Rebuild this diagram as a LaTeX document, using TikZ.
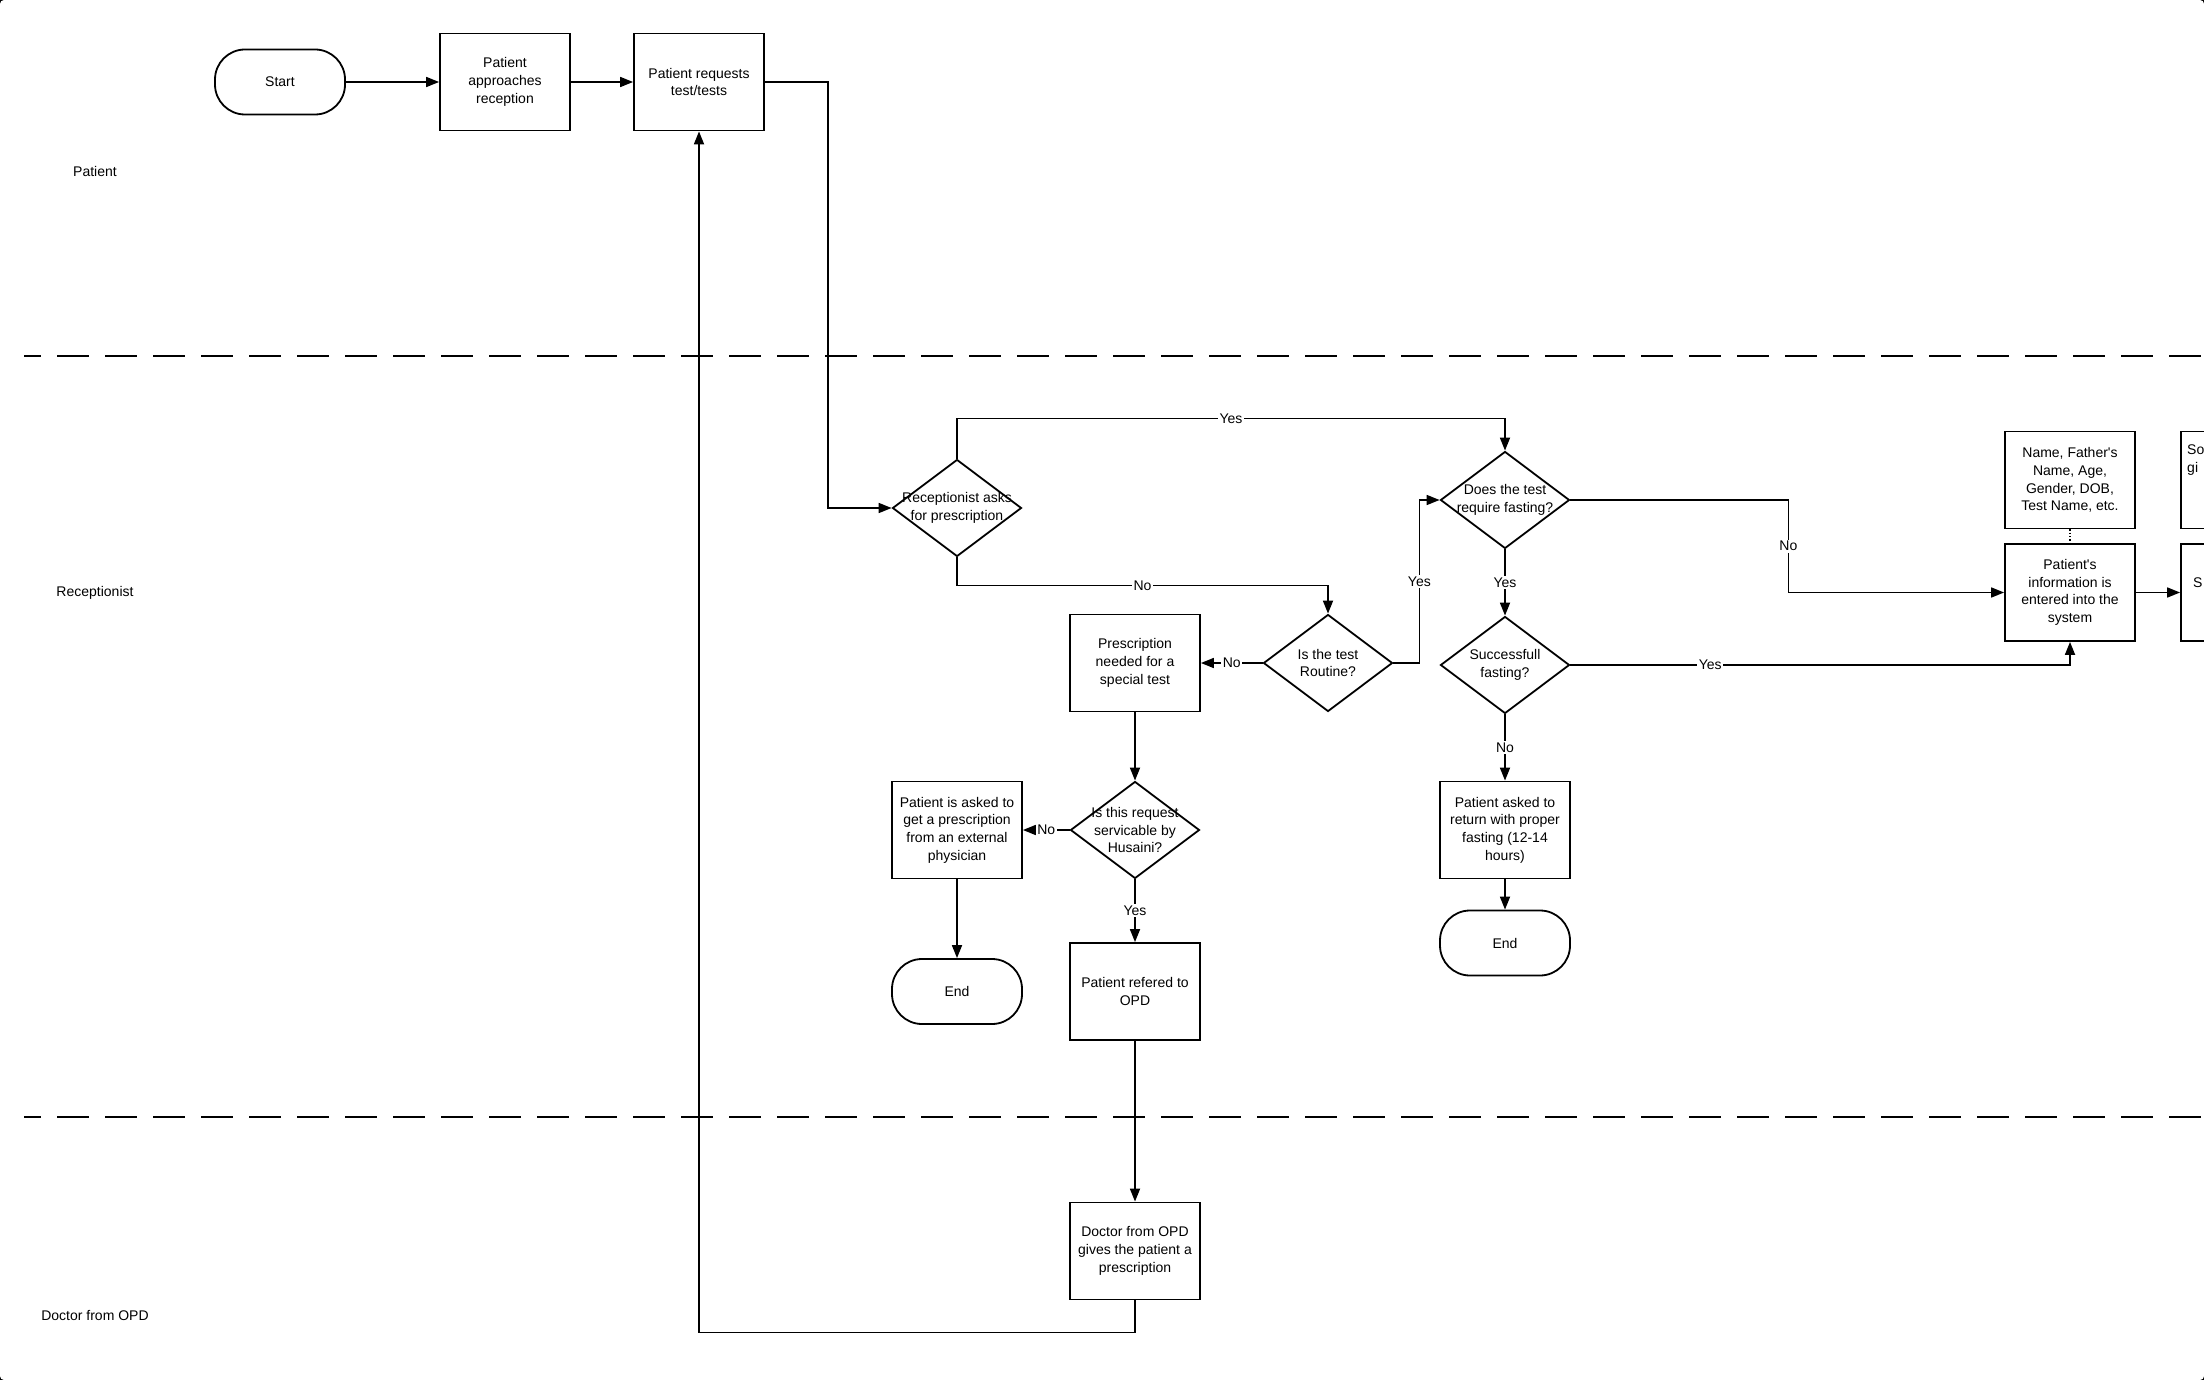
\documentclass[tikz,border=0pt]{standalone}
\usepackage{fontspec}
\setmainfont{Liberation Sans}
\usetikzlibrary{arrows, arrows.meta}
\usetikzlibrary{shapes.geometric}
\usetikzlibrary{positioning}
\newcommand{\chartfont}{\fontsize{14}{17.7}\selectfont}
\tikzset{
	box/.style={draw, line width=1.8pt, rectangle, minimum width=130pt, minimum height=97pt, inner sep=2pt, align=center},
	terminal/.style={draw, line width=1.8pt, rectangle, rounded corners=30pt, minimum width=130pt, minimum height=65pt, align=center},
	decision/.style={draw, line width=1.8pt, diamond, minimum width=129pt, minimum height=97pt, inner sep=0pt},
	flow/.style={->, line width=1.7pt},
	answer/.style={fill=white, inner sep=1.5pt},
	lane/.style={line width=1.7pt, dash pattern=on 32pt off 16pt, dash phase=15pt},
}

\begin{document}
\begin{tikzpicture}[x=1pt, y=-1pt, >={Triangle[length=13pt,width=10pt]}, font=\chartfont]
					% page
					\useasboundingbox (0,0) rectangle (2204,1380);
					\fill[black] (0,0) rectangle (2204,1380);
					\fill[white, rounded corners=4pt] (0,0) rectangle (2204,1380);
					\clip (0,0) rectangle (2204,1380);
					% swim lanes
					\draw[lane] (24,356) -- (2204,356);
					\draw[lane] (24,1117) -- (2204,1117);
					\node (lanepatient) at (95,171) {Patient};
					\node (lanerecept) at (95,593) {Receptionist};
					\node (lanedoctor) at (95,1315) {Doctor from OPD};
					% patient lane
					\node[terminal] (start) at (280,82) {Start};
					\node[box] (approach) at (505,82) {Patient\\approaches\\reception};
					\node[box] (request) at (699,82) {Patient requests\\test/tests};
					% receptionist lane
					\node[decision, label={[align=center]center:Receptionist asks\\for prescription}] (askrx) at (957,508) {};
					\node[decision, label={[align=center]center:Does the test\\require fasting?}] (fasting) at (1505,500) {};
					\node[decision, label={[align=center]center:Is the test\\Routine?}] (routine) at (1328,663) {};
					\node[box] (special) at (1135,663) {Prescription\\needed for a\\special test};
					\node[decision, label={[align=center]center:Successfull\\fasting?}] (success) at (1505,665) {};
					\node[box] (details) at (2070,480) {Name, Father\textquotesingle s\\Name, Age,\\Gender, DOB,\\Test Name, etc.};
					\node[box] (info) at (2070,592.5) {Patient\textquotesingle s\\information is\\entered into the\\system};
					\node[box] (nexttop) at (2246,480) {};
					\node[box] (nextbottom) at (2246,592.5) {};
					\node[anchor=west, align=left, inner sep=0pt] (nexttoptext) at (2187,460) {So\\gi};
					\node[anchor=west, inner sep=0pt] (nextbottomtext) at (2193,583) {S};
					\node[box] (retry) at (1505,830) {Patient asked to\\return with proper\\fasting (12-14\\hours)};
					\node[terminal] (endright) at (1505,943) {End};
					\node[decision, label={[align=center]center:Is this request\\servicable by\\Husaini?}] (servicable) at (1135,830) {};
					\node[box] (external) at (957,830) {Patient is asked to\\get a prescription\\from an external\\physician};
					\node[terminal] (endleft) at (957,991.5) {End};
					\node[box] (referred) at (1135,991.5) {Patient refered to\\OPD};
					% doctor lane
					\node[box] (doctor) at (1135,1251) {Doctor from OPD\\gives the patient a\\prescription};
					% arrows
					\draw[flow] (start) -- (approach);
					\draw[flow] (approach) -- (request);
					\draw[flow] (request.east) -- ++(63,0) |- (askrx.west);
					\draw[flow] (askrx.north) -- ++(0,-40) -| node[answer, pos=0.25] {Yes} (fasting.north);
					\draw[flow] (askrx.south) -- ++(0,28) -| node[answer, pos=0.25] {No} (routine.north);
					\draw[flow] (routine.west) -- node[answer] {No} (special.east);
					\draw[flow] (routine.east) -- ++(26,0) |- node[answer, pos=0.25] {Yes} (fasting.west);
					\draw[flow] (fasting.south) -- node[answer] {Yes} (success.north);
					\draw[flow] (fasting.east) -- ++(218,0) |- node[answer, pos=0.25] {No} (info.west);
					\draw[flow] (success.east) -| node[answer, pos=0.14] {Yes} (info.south);
					\draw[flow] (success.south) -- node[answer] {No} (retry.north);
					\draw[flow] (retry) -- (endright);
					\draw[flow] (special) -- (servicable);
					\draw[flow] (servicable.west) -- node[answer] {No} (external.east);
					\draw[flow] (external) -- (endleft);
					\draw[flow] (servicable.south) -- node[answer] {Yes} (referred.north);
					\draw[flow] (referred) -- (doctor);
					\draw[flow] (doctor.south) -- ++(0,32) -| (request.south);
					\draw[flow] (info) -- (nextbottom);
					\draw[line width=1.3pt, dotted] (details) -- (info);
				\end{tikzpicture}
\end{document}
